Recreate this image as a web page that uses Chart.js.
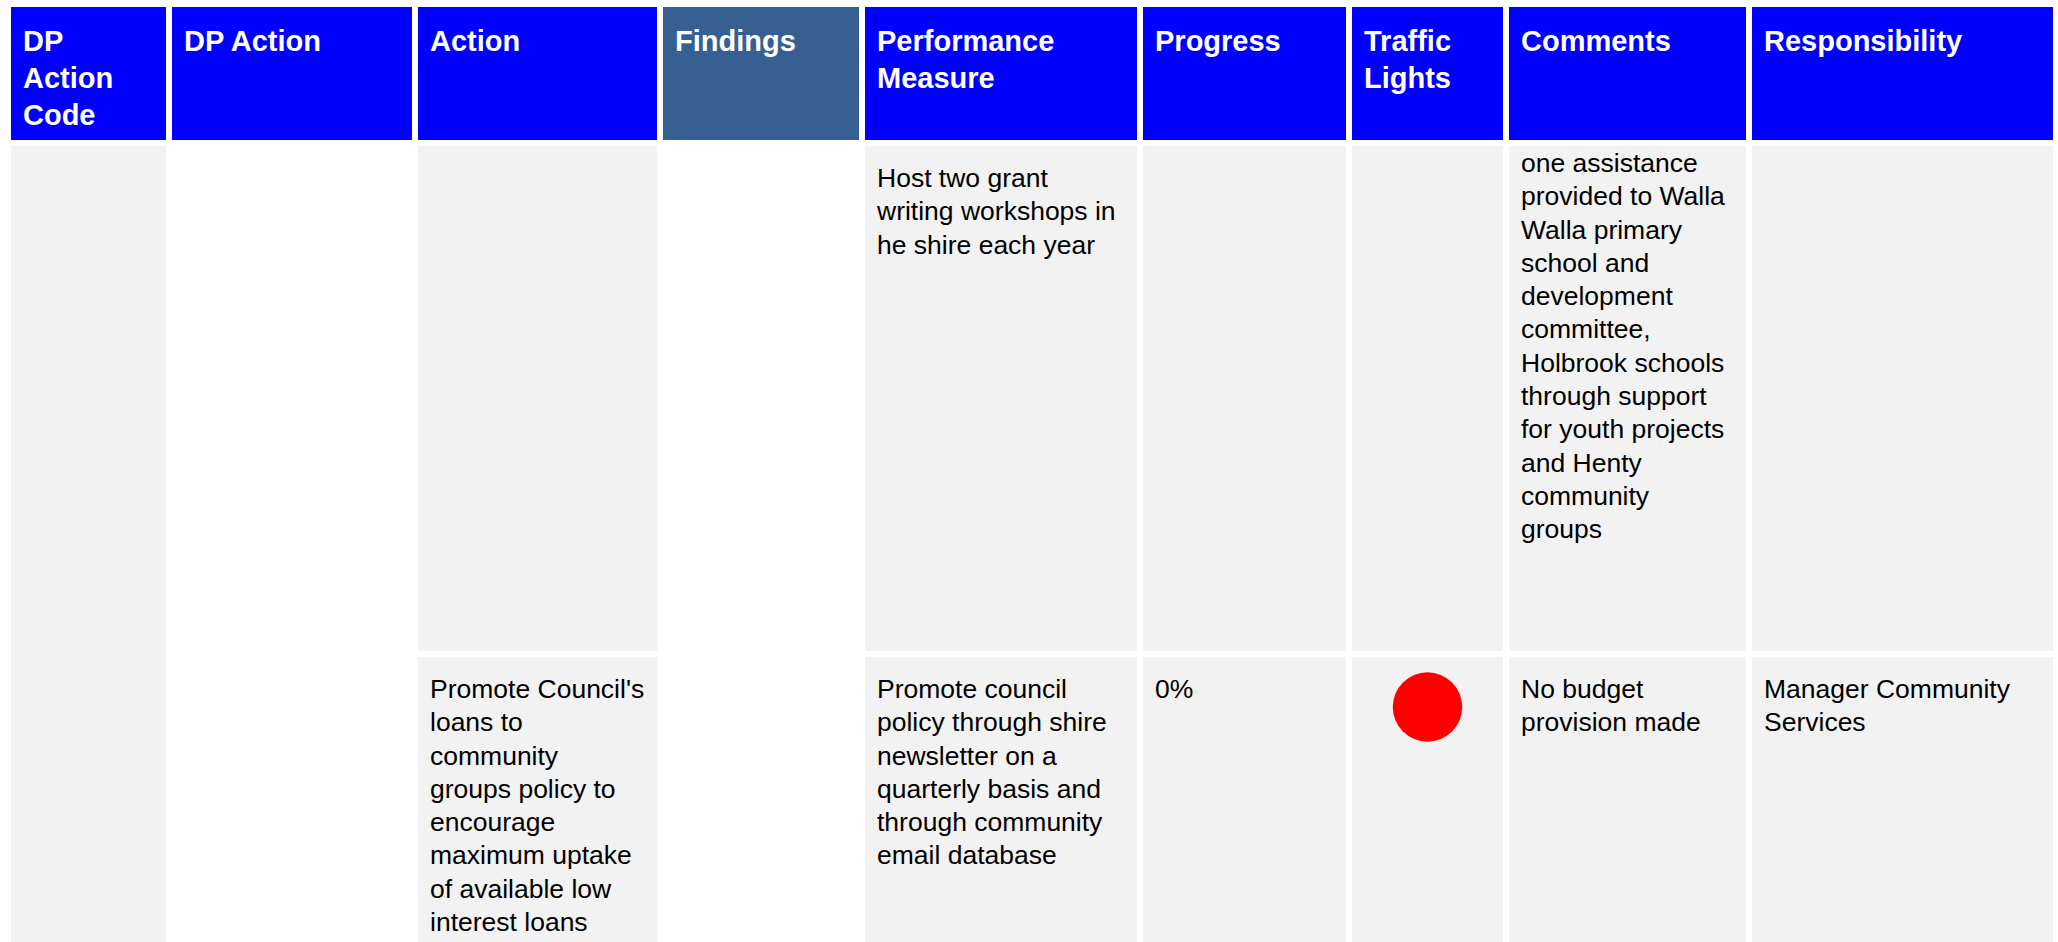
<!DOCTYPE html>
<html>
<head>
<meta charset="utf-8">
<script src="https://cdn.jsdelivr.net/npm/chart.js@4/dist/chart.umd.min.js"></script>
<style>
  html, body { margin: 0; padding: 0; background: #ffffff; overflow: hidden; }
  body { width: 2058px; height: 942px; position: relative; }
  #grid {
    position: absolute; left: 11px; top: 7px;
    display: grid;
    grid-template-columns: 155px 240px 239px 196px 272px 203px 151px 237px 301px;
    grid-template-rows: 133px 505px 300px;
    column-gap: 6px; row-gap: 6px;
    font-family: "Liberation Sans", Arial, Helvetica, sans-serif;
  }
  .hd {
    background: #0000FF; color: #ffffff; font-weight: bold;
    font-size: 29px; line-height: 37px; padding: 16px 12px 0 12px;
    white-space: pre; box-sizing: border-box; overflow: hidden;
  }
  .hd.find { background: #366092; }
  .cell {
    background: #F2F2F2; color: #000000;
    font-size: 26.5px; line-height: 33.3px; padding: 16px 12px 0 12px;
    white-space: pre; box-sizing: border-box; overflow: hidden; position: relative;
  }
  .cell.white { background: #ffffff; }
  .cell.cont { padding-top: 0; }
  .cell.cont .txt { position: relative; top: 1px; }
  .light { position: absolute; left: 0; top: 0; }
</style>
</head>
<body>
<div id="grid"></div>
<script>
// ---- data ----
const headers = ['DP\nAction\nCode', 'DP Action', 'Action', 'Findings', 'Performance\nMeasure', 'Progress', 'Traffic\nLights', 'Comments', 'Responsibility'];
const dpActionCode = [''];
const dpAction = [''];
const actionRows = ['', "Promote Council's\nloans to\ncommunity\ngroups policy to\nencourage\nmaximum uptake\nof available low\ninterest loans"];
const findings = [''];
const measureRows = ['Host two grant\nwriting workshops in\nhe shire each year', 'Promote council\npolicy through shire\nnewsletter on a\nquarterly basis and\nthrough community\nemail database'];
const progressRows = ['', '0%'];
const lightRows = [null, 'red'];
const commentRows = ['one assistance\nprovided to Walla\nWalla primary\nschool and\ndevelopment\ncommittee,\nHolbrook schools\nthrough support\nfor youth projects\nand Henty\ncommunity\ngroups', 'No budget\nprovision made'];
const responsibilityRows = ['', 'Manager Community\nServices'];
const lightColours = { red: '#FF0000', amber: '#FFC000', green: '#00B050' };

// ---- build table ----
const grid = document.getElementById('grid');
function add(cls, text, col, row, span) {
  const d = document.createElement('div');
  d.className = cls;
  d.style.gridColumn = String(col);
  d.style.gridRow = span ? (row + ' / span ' + span) : String(row);
  const t = document.createElement('span');
  t.className = 'txt';
  t.textContent = text;
  d.appendChild(t);
  grid.appendChild(d);
  return d;
}
headers.forEach((h, i) => add('hd' + (i === 3 ? ' find' : ''), h, i + 1, 1));
add('cell', dpActionCode[0], 1, 2, 2);
add('cell white', dpAction[0], 2, 2, 2);
add('cell white', findings[0], 4, 2, 2);
for (let r = 0; r < 2; r++) {
  const row = r + 2;
  add('cell', actionRows[r], 3, row);
  add('cell', measureRows[r], 5, row);
  add('cell', progressRows[r], 6, row);
  const lc = add('cell', '', 7, row);
  add('cell' + (r === 0 ? ' cont' : ''), commentRows[r], 8, row);
  add('cell', responsibilityRows[r], 9, row);
  if (lightRows[r]) {
    const cv = document.createElement('canvas');
    cv.className = 'light';
    cv.width = 151; cv.height = 100;
    cv.style.width = '151px'; cv.style.height = '100px';
    lc.appendChild(cv);
    new Chart(cv.getContext('2d'), {
      type: 'scatter',
      data: { datasets: [{
        label: 'Traffic light',
        data: [{ x: 0, y: 0 }],
        pointRadius: 34.75,
        pointHoverRadius: 34.75,
        backgroundColor: lightColours[lightRows[r]],
        borderWidth: 0,
        clip: false
      }] },
      options: {
        responsive: false, animation: false,
        layout: { padding: 0 },
        plugins: { legend: { display: false }, tooltip: { enabled: false } },
        scales: {
          x: { type: 'linear', min: -1, max: 1, display: false },
          y: { type: 'linear', min: -1, max: 1, display: false }
        }
      }
    });
  }
}
</script>
</body>
</html>
